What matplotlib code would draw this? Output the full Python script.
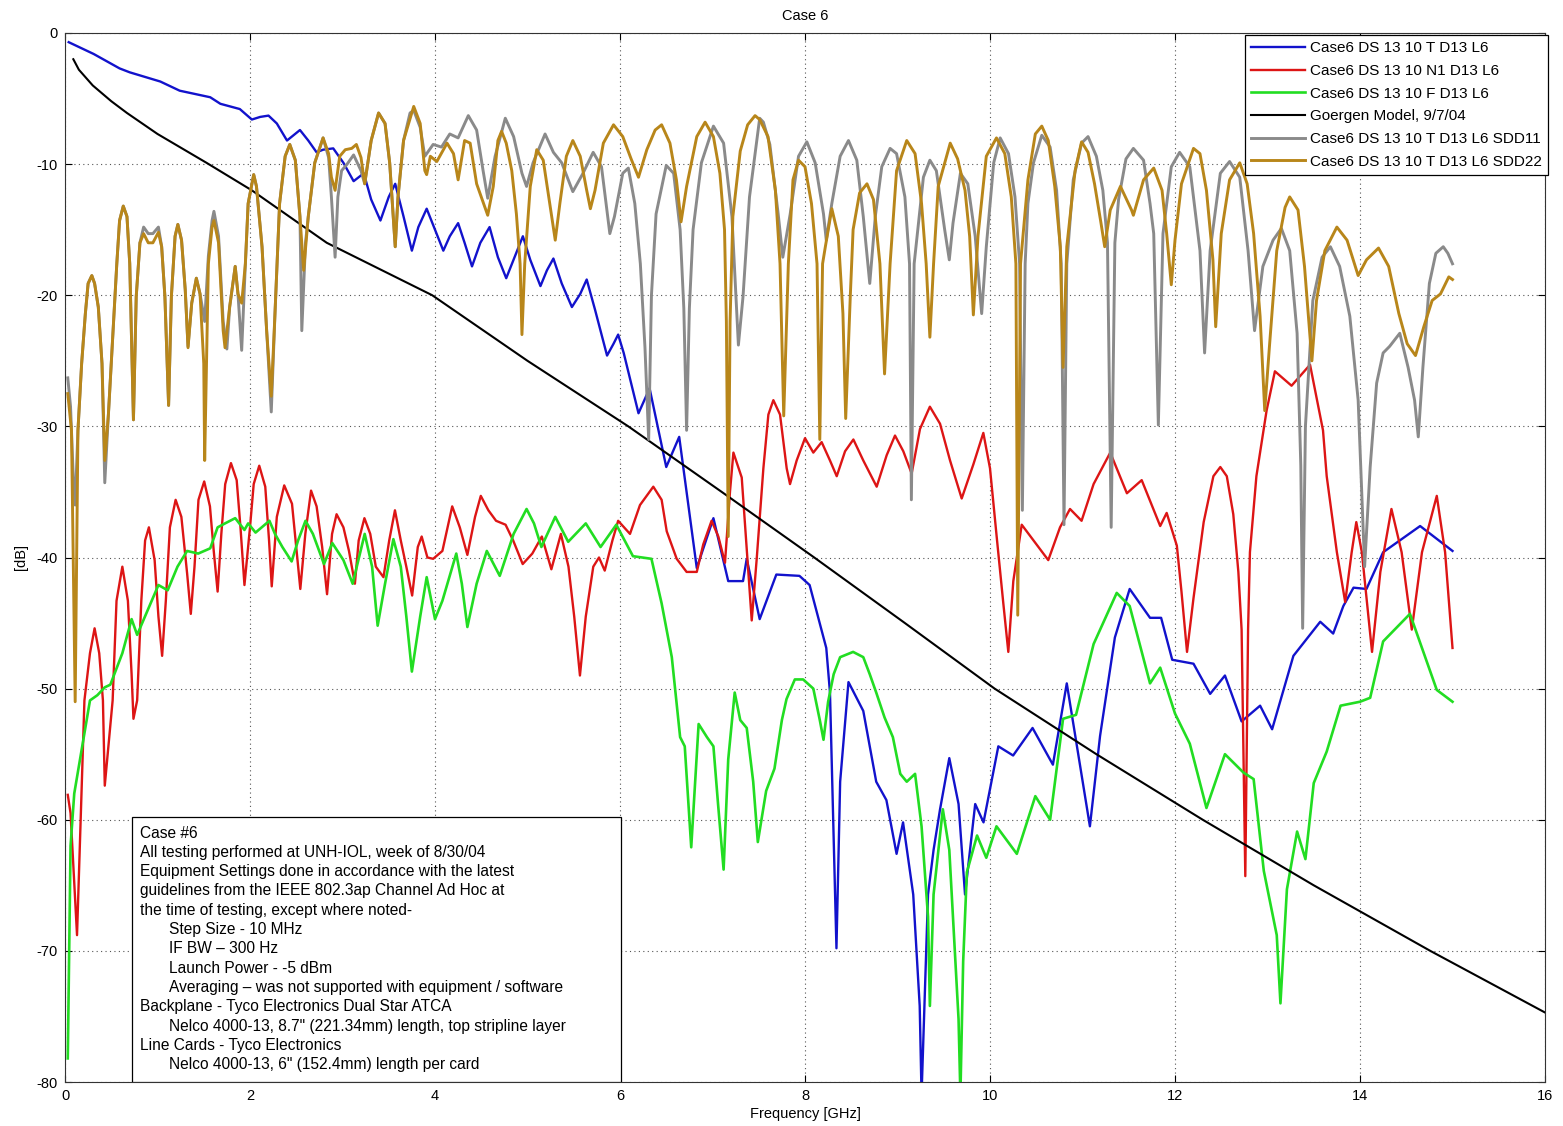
import matplotlib
matplotlib.use('Agg')
import matplotlib.pyplot as plt
from matplotlib.patches import Rectangle

plt.rcParams['font.family'] = ['Liberation Sans', 'DejaVu Sans']
plt.rcParams['axes.unicode_minus'] = False

# ---------------- data ----------------
blue_f = [0.04, 0.31, 0.59, 0.70, 1.03, 1.24, 1.57, 1.68, 1.89, 2.02, 2.11, 2.20, 2.29, 2.40, 2.47,
          2.54, 2.63, 2.72, 2.79, 2.90, 3.01, 3.12, 3.23, 3.31, 3.41, 3.50, 3.57, 3.66, 3.75, 3.82,
          3.91, 4.00, 4.09, 4.16, 4.25, 4.32, 4.40, 4.49, 4.59, 4.68, 4.77, 4.86, 4.95, 5.03, 5.14,
          5.21, 5.28, 5.37, 5.48, 5.57, 5.64, 5.73, 5.86, 5.93, 5.98, 6.04, 6.20, 6.32, 6.50, 6.64,
          6.83, 7.01, 7.17, 7.33, 7.37, 7.51, 7.69, 7.94,
          8.05, 8.23, 8.27, 8.34, 8.38, 8.47, 8.63, 8.77, 8.88, 8.99, 9.06, 9.17, 9.24, 9.26, 9.33,
          9.39, 9.46, 9.56, 9.66, 9.73, 9.84, 9.93, 10.09, 10.25, 10.46, 10.68, 10.83, 11.08, 11.19,
          11.35, 11.51, 11.73, 11.85, 11.97, 12.20, 12.38, 12.54, 12.72, 12.92, 13.05, 13.28, 13.57,
          13.71, 13.82, 13.93, 14.07, 14.25, 14.65, 15.0]
blue_db = [-0.7, -1.6, -2.7, -3.0, -3.7, -4.4, -4.9, -5.4, -5.8, -6.6, -6.4, -6.3, -6.9, -8.2, -7.8,
           -7.4, -8.2, -9.1, -8.9, -8.8, -9.9, -11.3, -10.7, -12.7, -14.3, -12.5, -11.5, -14.0, -16.6, -14.8,
           -13.4, -15.0, -16.6, -15.5, -14.5, -16.0, -17.8, -16.0, -14.8, -17.1, -18.7, -17.1, -15.5, -17.3, -19.3,
           -18.1, -17.2, -19.1, -20.9, -19.9, -18.8, -21.1, -24.6, -23.7, -23.0, -24.4, -29.0, -27.1, -33.1, -30.8,
           -40.8, -37.0, -41.8, -41.8, -40.1, -44.7, -41.3, -41.4,
           -42.1, -46.9, -50.3, -69.8, -57.1, -49.5, -51.7, -57.1, -58.5, -62.6, -60.2, -65.7, -74.2, -81.0, -65.7,
           -62.3, -59.2, -55.3, -58.8, -65.7, -58.8, -60.2, -54.4, -55.1, -53.0, -55.8, -49.6, -60.5, -53.6,
           -46.1, -42.4, -44.6, -44.6, -47.8, -48.1, -50.4, -49.0, -52.5, -51.3, -53.1, -47.5, -44.9,
           -45.8, -43.7, -42.3, -42.4, -39.6, -37.6, -39.5]

red_f = [0.03, 0.06, 0.13, 0.21, 0.27, 0.32, 0.37, 0.41, 0.43, 0.515, 0.557, 0.62, 0.68, 0.72, 0.74,
         0.78, 0.825, 0.866, 0.907, 0.969, 1.01, 1.05, 1.09, 1.134, 1.196, 1.258, 1.32, 1.36, 1.40, 1.443,
         1.505, 1.567, 1.608, 1.65, 1.69, 1.732, 1.794, 1.856, 1.897, 1.94, 2.0, 2.04, 2.10, 2.165, 2.206,
         2.235, 2.29, 2.37, 2.454, 2.495, 2.544, 2.598, 2.66, 2.72, 2.78, 2.833, 2.887, 2.936, 3.01, 3.07,
         3.134, 3.175, 3.237, 3.30, 3.36, 3.443, 3.505, 3.567, 3.63, 3.69, 3.753, 3.814, 3.856, 3.918, 3.98,
         4.08, 4.186, 4.268, 4.35, 4.433, 4.495, 4.577, 4.66, 4.763, 4.845, 4.948, 5.052, 5.155, 5.258, 5.361,
         5.443, 5.505, 5.567, 5.63, 5.711, 5.773, 5.835, 5.918, 5.98, 6.108, 6.216, 6.36, 6.45, 6.505, 6.613,
         6.72, 6.83, 6.90, 6.99, 7.063, 7.135, 7.19, 7.226, 7.316, 7.37, 7.424, 7.478, 7.55, 7.604, 7.658,
         7.73, 7.802, 7.838, 7.91, 8.0, 8.09, 8.18, 8.27, 8.343, 8.433, 8.523, 8.63, 8.775, 8.883, 8.973,
         9.063, 9.153, 9.243, 9.35, 9.46, 9.568, 9.694, 9.82, 9.928, 10.0, 10.072, 10.144, 10.198, 10.252, 10.343,
         10.47, 10.63, 10.757, 10.865, 10.99, 11.12, 11.30, 11.48, 11.64, 11.84, 11.91, 12.02, 12.07, 12.13, 12.20,
         12.31, 12.415, 12.49, 12.56, 12.63, 12.685, 12.72, 12.76, 12.79, 12.81, 12.88, 12.99, 13.08, 13.26, 13.46,
         13.60, 13.64, 13.75, 13.84, 13.91, 13.96, 14.02, 14.13, 14.22, 14.34, 14.45, 14.56, 14.67, 14.83, 14.92,
         15.0]
red_db = [-58.1, -59.5, -68.8, -50.9, -47.3, -45.4, -47.3, -50.9, -57.4, -50.9, -43.3, -40.7, -43.3, -48.9, -52.3,
          -50.9, -43.3, -38.7, -37.7, -40.2, -44.5, -47.5, -43.3, -37.7, -35.6, -36.9, -41.2, -44.3, -40.7, -35.6,
          -34.2, -36.1, -39.5, -42.6, -38.2, -34.4, -32.8, -34.1, -37.7, -42.1, -37.7, -34.4, -33.0, -34.6, -38.7,
          -42.2, -36.9, -34.5, -35.9, -38.9, -42.4, -38.2, -34.9, -36.1, -39.2, -42.8, -38.2, -36.7, -37.7, -39.5,
          -42.0, -38.7, -37.0, -38.2, -40.7, -41.5, -38.7, -36.4, -38.7, -40.7, -42.9, -39.2, -38.4, -40.0, -40.1,
          -39.5, -36.1, -37.7, -39.8, -36.9, -35.3, -36.4, -37.2, -37.5, -38.7, -40.5, -39.7, -38.4, -40.9, -38.2,
          -40.7, -44.5, -49.0, -44.5, -40.7, -40.0, -41.0, -38.7, -37.2, -38.2, -36.0, -34.6, -35.6, -38.0, -40.1,
          -41.1, -41.1, -39.0, -37.2, -38.4, -40.4, -34.9, -32.0, -33.9, -39.4, -44.8, -40.1, -33.2, -29.1, -28.0,
          -29.1, -33.2, -34.4, -32.6, -30.9, -32.0, -31.2, -32.6, -33.8, -31.9, -31.0, -32.6, -34.6, -32.2, -30.7,
          -31.9, -33.6, -30.2, -28.5, -29.8, -32.6, -35.5, -32.9, -30.5, -33.2, -38.4, -43.5, -47.2, -41.8, -37.5,
          -38.7, -40.2, -37.7, -36.3, -37.2, -34.4, -32.0, -35.1, -34.1, -37.6, -36.6, -39.1, -42.6, -47.2, -43.1,
          -37.3, -33.8, -33.1, -33.8, -36.7, -41.1, -45.5, -64.3, -45.5, -39.6, -33.8, -28.8, -25.8, -26.9, -25.3,
          -30.3, -33.8, -39.6, -43.4, -39.6, -37.3, -39.6, -47.2, -41.1, -36.3, -39.6, -45.5, -39.6, -35.3, -39.6,
          -46.9]

green_f = [0.03, 0.06, 0.10, 0.16, 0.27, 0.35, 0.43, 0.49, 0.62, 0.72, 0.78, 0.907, 1.01, 1.11, 1.216,
           1.32, 1.44, 1.57, 1.65, 1.73, 1.84, 1.94, 1.98, 2.06, 2.21, 2.27, 2.35, 2.45, 2.52, 2.60,
           2.68, 2.80, 2.89, 3.01, 3.11, 3.24, 3.32, 3.38, 3.46, 3.55, 3.63, 3.69, 3.75, 3.84, 3.91,
           4.00, 4.08, 4.23, 4.29, 4.35, 4.45, 4.56, 4.70, 4.85, 4.99, 5.07, 5.15, 5.30, 5.44, 5.63,
           5.79, 5.96, 6.14, 6.34, 6.45, 6.56, 6.65, 6.70, 6.77, 6.85, 6.94, 7.01, 7.06, 7.12, 7.17,
           7.24, 7.30, 7.37, 7.44, 7.49, 7.58, 7.67, 7.75, 7.80, 7.89, 7.98, 8.09, 8.16, 8.20, 8.25,
           8.31, 8.38, 8.52, 8.63, 8.70, 8.77, 8.86, 8.95, 9.03, 9.10, 9.19, 9.26, 9.33, 9.35, 9.39,
           9.49, 9.56, 9.66, 9.68, 9.71, 9.75, 9.86, 9.96, 10.07, 10.29, 10.49, 10.65, 10.79, 10.93, 11.12,
           11.37, 11.51, 11.73, 11.84, 12.00, 12.16, 12.34, 12.54, 12.74, 12.85, 12.96, 13.10, 13.14, 13.21, 13.32,
           13.41, 13.50, 13.64, 13.79, 14.00, 14.11, 14.25, 14.54, 14.83, 15.0]
green_db = [-78.2, -62.0, -58.0, -55.5, -50.9, -50.5, -49.9, -49.7, -47.3, -44.7, -45.9, -43.8, -42.1, -42.5, -40.7,
            -39.5, -39.7, -39.3, -37.7, -37.4, -37.0, -37.9, -37.4, -38.1, -37.2, -38.2, -39.2, -40.3, -38.7, -37.2,
            -38.2, -40.5, -38.9, -40.2, -42.0, -38.2, -40.7, -45.2, -42.0, -38.6, -40.7, -44.5, -48.7, -44.5, -41.5,
            -44.7, -43.3, -39.7, -42.0, -45.3, -42.0, -39.5, -41.4, -38.2, -36.3, -37.4, -39.2, -36.9, -38.8, -37.4,
            -39.2, -37.5, -39.9, -40.1, -43.5, -47.6, -53.7, -54.4, -62.1, -52.7, -53.7, -54.4, -58.8, -63.8, -55.4,
            -50.3, -52.4, -53.0, -57.1, -61.7, -57.8, -56.1, -52.4, -50.8, -49.3, -49.3, -50.0, -52.4, -53.9, -51.0,
            -48.9, -47.6, -47.2, -47.6, -48.9, -50.3, -52.2, -53.7, -56.5, -57.1, -56.5, -60.5, -67.4, -74.2, -65.7,
            -59.2, -62.3, -75.2, -81.0, -70.8, -64.0, -61.2, -62.9, -60.5, -62.6, -58.2, -60.0, -52.3, -52.0, -46.6,
            -42.7, -43.7, -49.6, -48.4, -51.9, -54.2, -59.1, -55.0, -56.4, -56.9, -63.9, -68.8, -74.0, -65.3, -60.9,
            -63.0, -57.2, -54.8, -51.3, -51.0, -50.7, -46.4, -44.3, -50.1, -51.0]

model_f = [0.09, 0.15, 0.30, 0.50, 0.67, 1.00, 1.53, 2.02, 2.83, 3.97, 5.00, 6.09, 7.10, 8.10, 9.08,
           10.05, 11.15, 12.30, 13.50, 14.76, 16.0]
model_db = [-2.0, -2.8, -4.0, -5.2, -6.1, -7.7, -9.9, -12.0, -16.0, -20.0, -25.0, -30.0, -35.0, -40.0, -45.0,
            -50.0, -55.0, -60.0, -65.0, -70.0, -74.7]

sdd11_f = [0.03, 0.06, 0.09, 0.11, 0.14, 0.18, 0.22, 0.25, 0.29, 0.32, 0.36, 0.40, 0.43, 0.47, 0.52,
           0.56, 0.59, 0.63, 0.67, 0.70, 0.74, 0.77, 0.81, 0.85, 0.90, 0.95, 1.01, 1.045, 1.08, 1.12,
           1.15, 1.19, 1.22, 1.26, 1.30, 1.33, 1.37, 1.42, 1.46, 1.51, 1.55, 1.59, 1.61, 1.66, 1.71,
           1.75, 1.78, 1.84, 1.87, 1.91, 1.95, 1.98, 2.04, 2.07, 2.13, 2.18, 2.23, 2.27, 2.32, 2.38,
           2.43, 2.49, 2.54, 2.56, 2.60, 2.63, 2.70, 2.79, 2.85, 2.88, 2.92, 2.95, 2.99, 3.05, 3.12,
           3.20, 3.24, 3.31, 3.39, 3.46, 3.51, 3.57, 3.60, 3.66, 3.73, 3.77, 3.84, 3.89, 3.98, 4.07,
           4.16, 4.25, 4.36, 4.45, 4.52, 4.57, 4.65, 4.76, 4.85, 4.94, 4.99, 5.06, 5.19, 5.28, 5.37,
           5.49, 5.60, 5.71, 5.80, 5.89, 5.94, 6.03, 6.09, 6.16, 6.22, 6.27, 6.31, 6.34, 6.39, 6.50,
           6.58, 6.65, 6.69, 6.72, 6.75, 6.79, 6.88, 7.01, 7.12, 7.21, 7.28, 7.33, 7.40, 7.51, 7.55,
           7.62, 7.71, 7.76, 7.84, 7.93, 8.02, 8.11, 8.20, 8.23, 8.29, 8.38, 8.47, 8.56, 8.63, 8.70,
           8.76, 8.83, 8.92, 8.99, 9.08, 9.13, 9.15, 9.18, 9.28, 9.35, 9.42, 9.51, 9.56, 9.60, 9.68,
           9.76, 9.84, 9.91, 9.96, 10.04, 10.11, 10.20, 10.27, 10.32, 10.35, 10.38, 10.41, 10.47, 10.56, 10.65,
           10.72, 10.77, 10.80, 10.83, 10.90, 10.99, 11.06, 11.15, 11.22, 11.27, 11.31, 11.35, 11.39, 11.47, 11.55,
           11.66, 11.73, 11.77, 11.82, 11.87, 11.96, 12.05, 12.16, 12.27, 12.32, 12.38, 12.49, 12.59, 12.70, 12.79,
           12.86, 12.95, 13.06, 13.15, 13.24, 13.32, 13.36, 13.38, 13.41, 13.49, 13.59, 13.68, 13.78, 13.89, 13.98,
           14.05, 14.11, 14.18, 14.25, 14.32, 14.43, 14.52, 14.59, 14.63, 14.68, 14.75, 14.82, 14.90, 14.95, 15.0]
sdd11_db = [-26.3, -28.5, -34.0, -36.0, -30.3, -25.2, -21.4, -19.1, -18.5, -19.1, -20.9, -25.2, -34.3, -29.0, -22.7,
            -17.6, -14.3, -13.2, -14.0, -17.6, -29.5, -20.1, -16.0, -14.8, -15.3, -15.3, -14.8, -16.3, -20.1, -28.4,
            -20.1, -15.5, -14.6, -15.8, -19.6, -23.9, -20.6, -18.7, -19.9, -22.0, -17.0, -14.3, -13.6, -15.5, -22.0,
            -24.1, -20.9, -17.8, -19.9, -24.2, -17.6, -13.0, -10.8, -11.7, -16.3, -22.7, -28.9, -21.4, -13.0, -9.4,
            -8.5, -9.7, -14.0, -22.7, -16.0, -14.0, -9.9, -8.0, -9.5, -12.5, -17.1, -12.5, -10.5, -10.0, -9.3,
            -10.5, -11.5, -8.2, -6.1, -6.9, -9.9, -16.3, -12.5, -8.2, -6.1, -5.9, -7.2, -9.4, -8.5, -8.7,
            -7.7, -8.0, -6.3, -7.4, -10.5, -12.6, -9.4, -6.5, -7.9, -10.7, -11.7, -9.9, -7.7, -9.1, -9.9,
            -12.1, -10.7, -9.1, -10.2, -15.3, -14.0, -10.7, -10.3, -13.0, -17.6, -24.0, -31.0, -20.0, -13.8, -10.1,
            -10.7, -15.0, -21.0, -30.3, -21.0, -15.0, -9.9, -7.1, -8.4, -14.0, -23.8, -20.1, -12.5, -6.5, -6.8,
            -8.5, -13.8, -17.1, -13.8, -9.4, -8.3, -9.9, -13.8, -15.8, -13.0, -9.4, -8.2, -9.7, -14.0, -19.1,
            -14.0, -10.2, -8.8, -9.2, -12.5, -17.6, -35.6, -17.6, -11.0, -9.7, -10.5, -15.0, -17.3, -14.5, -10.7,
            -11.5, -15.5, -21.4, -16.3, -9.9, -8.0, -9.2, -12.5, -17.6, -36.4, -17.6, -13.0, -9.9, -7.8, -8.7,
            -12.0, -17.6, -37.5, -17.6, -11.2, -8.4, -7.9, -9.4, -12.0, -16.0, -37.7, -16.0, -12.7, -9.6, -8.8,
            -9.7, -13.0, -15.3, -29.9, -15.3, -10.2, -9.1, -10.2, -16.6, -24.4, -16.6, -10.7, -9.8, -11.0, -16.6,
            -22.7, -17.8, -15.8, -14.9, -16.6, -22.9, -33.0, -45.4, -30.0, -20.4, -17.1, -16.3, -17.8, -21.6, -28.0,
            -40.7, -33.1, -26.7, -24.4, -23.9, -22.9, -25.5, -28.0, -30.8, -25.5, -19.1, -16.8, -16.3, -16.8, -17.6]

sdd22_f = [0.03, 0.07, 0.11, 0.14, 0.18, 0.22, 0.25, 0.29, 0.32, 0.36, 0.40, 0.43, 0.47, 0.52, 0.56,
           0.59, 0.63, 0.67, 0.70, 0.74, 0.77, 0.81, 0.85, 0.90, 0.95, 1.01, 1.045, 1.08, 1.12, 1.15,
           1.19, 1.22, 1.26, 1.30, 1.33, 1.37, 1.42, 1.46, 1.50, 1.51, 1.53, 1.55, 1.59, 1.61, 1.66,
           1.71, 1.73, 1.78, 1.84, 1.87, 1.91, 1.95, 1.98, 2.04, 2.07, 2.13, 2.18, 2.23, 2.27, 2.32,
           2.38, 2.43, 2.49, 2.54, 2.58, 2.63, 2.70, 2.79, 2.85, 2.88, 2.92, 2.97, 3.03, 3.10, 3.15,
           3.20, 3.24, 3.31, 3.39, 3.46, 3.51, 3.57, 3.60, 3.66, 3.77, 3.84, 3.89, 3.91, 3.95, 4.02,
           4.13, 4.20, 4.25, 4.32, 4.38, 4.45, 4.50, 4.57, 4.63, 4.68, 4.72, 4.77, 4.83, 4.88, 4.92,
           4.94, 4.97, 5.03, 5.10, 5.17, 5.24, 5.30, 5.35, 5.42, 5.49, 5.57, 5.64, 5.68, 5.73, 5.82,
           5.93, 6.03, 6.12, 6.20, 6.29, 6.38, 6.45, 6.54, 6.61, 6.66, 6.72, 6.83, 6.92, 7.01, 7.08,
           7.13, 7.15, 7.17, 7.19, 7.22, 7.30, 7.38, 7.46, 7.51, 7.60, 7.68, 7.73, 7.77, 7.82, 7.87,
           7.93, 8.00, 8.07, 8.13, 8.16, 8.19, 8.22, 8.29, 8.36, 8.41, 8.44, 8.49, 8.52, 8.59, 8.67,
           8.74, 8.81, 8.86, 8.92, 8.99, 9.10, 9.19, 9.26, 9.31, 9.35, 9.39, 9.44, 9.57, 9.65, 9.73,
           9.78, 9.82, 9.87, 9.96, 10.07, 10.16, 10.23, 10.28, 10.30, 10.33, 10.41, 10.49, 10.56, 10.63, 10.70,
           10.76, 10.79, 10.83, 10.92, 10.99, 11.06, 11.13, 11.20, 11.24, 11.30, 11.41, 11.53, 11.55, 11.66, 11.77,
           11.86, 11.91, 11.96, 12.00, 12.07, 12.20, 12.27, 12.34, 12.41, 12.44, 12.50, 12.59, 12.70, 12.78, 12.85,
           12.92, 12.97, 13.02, 13.10, 13.19, 13.24, 13.33, 13.40, 13.48, 13.53, 13.62, 13.75, 13.86, 13.98, 14.07,
           14.20, 14.31, 14.42, 14.51, 14.60, 14.69, 14.78, 14.87, 14.96, 15.0]
sdd22_db = [-27.5, -30.3, -51.0, -30.3, -25.2, -21.4, -19.1, -18.5, -19.1, -20.9, -25.2, -32.6, -29.0, -22.7, -17.6,
            -14.3, -13.2, -14.0, -17.6, -29.5, -20.1, -16.0, -15.3, -16.0, -16.0, -15.2, -16.3, -20.1, -28.4, -20.1,
            -15.5, -14.6, -15.8, -19.6, -24.0, -20.6, -18.7, -19.9, -25.2, -32.6, -25.0, -17.6, -14.8, -14.3, -16.0,
            -22.7, -24.0, -20.9, -17.8, -19.9, -20.6, -17.6, -13.0, -10.8, -11.7, -16.3, -22.7, -27.7, -21.4, -13.0,
            -9.4, -8.5, -9.7, -14.0, -18.1, -14.0, -9.9, -8.0, -9.2, -11.0, -12.0, -9.4, -8.9, -8.8, -8.5,
            -9.5, -11.5, -8.2, -6.1, -6.9, -9.9, -16.3, -12.5, -8.2, -5.6, -6.9, -10.5, -10.8, -9.4, -9.8,
            -8.4, -9.2, -11.2, -8.2, -8.4, -11.5, -12.5, -13.9, -11.7, -8.2, -7.5, -8.4, -10.5, -13.8, -17.6,
            -23.0, -17.6, -11.7, -8.9, -9.7, -13.0, -15.8, -13.0, -9.4, -8.2, -9.4, -12.0, -13.4, -12.0, -8.4,
            -7.0, -7.9, -9.6, -11.0, -8.9, -7.4, -7.0, -8.4, -11.2, -14.4, -11.7, -7.9, -6.8, -7.9, -10.7,
            -15.0, -22.0, -38.4, -22.0, -14.0, -9.0, -7.0, -6.3, -6.6, -7.9, -12.0, -17.6, -29.2, -17.6, -11.2,
            -9.7, -10.2, -13.0, -17.6, -31.0, -17.6, -16.3, -13.4, -15.5, -21.4, -29.4, -20.0, -15.0, -12.2, -11.5,
            -12.7, -17.6, -26.0, -17.6, -10.5, -8.2, -9.2, -13.0, -17.6, -23.2, -17.6, -11.7, -8.4, -9.6, -12.0,
            -15.5, -21.5, -15.5, -9.4, -8.0, -9.2, -12.5, -17.6, -44.4, -17.6, -11.2, -7.7, -7.1, -8.2, -11.7,
            -16.3, -25.5, -16.3, -10.5, -8.3, -9.1, -11.5, -14.5, -16.3, -13.5, -11.7, -13.5, -13.9, -11.2, -10.3,
            -12.0, -15.3, -19.2, -15.8, -11.5, -8.8, -9.2, -12.0, -17.3, -22.4, -15.3, -11.2, -9.9, -11.5, -15.3,
            -21.6, -28.8, -24.0, -16.6, -13.3, -12.5, -13.5, -17.8, -25.0, -20.4, -16.6, -14.8, -15.8, -18.5, -17.3,
            -16.4, -17.8, -21.4, -23.7, -24.6, -22.4, -20.4, -19.9, -18.6, -18.8]

series_labels = ['Case6 DS 13 10 T D13 L6', 'Case6 DS 13 10 N1 D13 L6', 'Case6 DS 13 10 F D13 L6',
                 'Goergen Model, 9/7/04', 'Case6 DS 13 10 T D13 L6 SDD11', 'Case6 DS 13 10 T D13 L6 SDD22']
x_ticks = [0, 2, 4, 6, 8, 10, 12, 14, 16]
y_ticks = [0, -10, -20, -30, -40, -50, -60, -70, -80]

note_lines = [
    ("Case #6", 0),
    ("All testing performed at UNH-IOL, week of 8/30/04", 0),
    ("Equipment Settings done in accordance with the latest", 0),
    ("guidelines from the IEEE 802.3ap Channel Ad Hoc at", 0),
    ("the time of testing, except where noted-", 0),
    ("Step Size - 10 MHz", 1),
    ("IF BW \u2013 300 Hz", 1),
    ("Launch Power - -5 dBm", 1),
    ("Averaging \u2013 was not supported with equipment / software", 1),
    ("Backplane - Tyco Electronics Dual Star ATCA", 0),
    ("Nelco 4000-13, 8.7\" (221.34mm) length, top stripline layer", 1),
    ("Line Cards - Tyco Electronics", 0),
    ("Nelco 4000-13, 6\" (152.4mm) length per card", 1),
]

# ---------------- figure ----------------
W, H = 1563, 1126
fig = plt.figure(figsize=(W / 100, H / 100), dpi=100)
ax_l, ax_r, ax_t, ax_b = 65, 1545, 33, 1082
ax = fig.add_axes([ax_l / W, 1 - ax_b / H, (ax_r - ax_l) / W, (ax_b - ax_t) / H])

colors = ['#1212cc', '#dd1515', '#22dd22', '#000000', '#8a8a8a', '#b8861a']
lws = [1.7, 1.7, 1.9, 1.5, 2.1, 2.1]
data = [(blue_f, blue_db), (red_f, red_db), (green_f, green_db),
        (model_f, model_db), (sdd11_f, sdd11_db), (sdd22_f, sdd22_db)]
handles = []
for (fx, fy), c, lw, lab in zip(data, colors, lws, series_labels):
    h, = ax.plot(fx, fy, color=c, lw=lw, label=lab, solid_joinstyle='round')
    handles.append(h)

ax.set_xlim(0, 16)
ax.set_ylim(-80, 0)
ax.set_xticks(x_ticks)
ax.set_yticks(y_ticks)
ax.tick_params(direction='in', length=5, width=0.8, top=True, right=True, labelsize=10.5, pad=5)
ax.grid(True, linestyle=(0, (1, 3)), color='#555555', linewidth=0.8)
for s in ax.spines.values():
    s.set_linewidth(0.8)
    s.set_color('#333333')

ax.set_title('Case 6', fontsize=10.5, pad=9)
ax.set_xlabel('Frequency [GHz]', fontsize=10.5, labelpad=3)
ax.set_ylabel('[dB]', fontsize=10.5, labelpad=6)

leg = ax.legend(handles=handles, loc='upper right', bbox_to_anchor=(1.002, 0.998),
                fontsize=11, handlelength=3.5, handletextpad=0.35, labelspacing=0.57,
                borderpad=0.4, borderaxespad=0.0, fancybox=False, framealpha=1.0)
leg.get_frame().set_edgecolor('black')
leg.get_frame().set_linewidth(0.9)

# annotation box
def ax_x(px):
    return (px - ax_l) / (ax_r - ax_l)

def ax_y(py):
    return (ax_b - py) / (ax_b - ax_t)

rect = Rectangle((ax_x(132), 0), ax_x(621) - ax_x(132), ax_y(817), transform=ax.transAxes,
                 facecolor='white', edgecolor='black', linewidth=0.9, zorder=5)
ax.add_patch(rect)
for i, (txt, ind) in enumerate(note_lines):
    ax.text(ax_x(140 + 29 * ind), ax_y(833 + i * 19.3), txt, transform=ax.transAxes,
            fontsize=11.2, va='center', ha='left', zorder=6)

fig.savefig('out.png', dpi=100)
